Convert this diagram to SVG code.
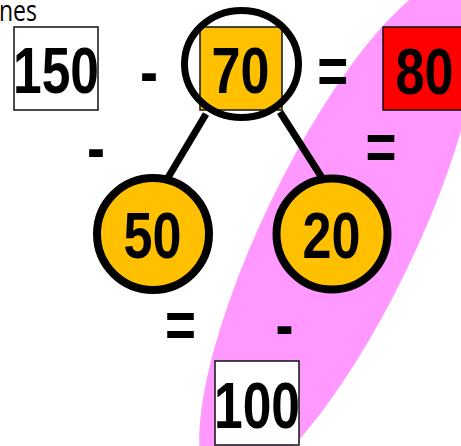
<svg xmlns="http://www.w3.org/2000/svg" width="461" height="446" viewBox="0 0 461 446">
  <style>
    .num { font-family: "Liberation Sans", Arial, sans-serif; font-weight: bold; font-size: 65px; fill: #000; text-anchor: middle; }
    .op { font-family: "Liberation Sans", Arial, sans-serif; font-weight: bold; font-size: 65px; fill: #000; text-anchor: middle; }
    .box { stroke: #111; stroke-width: 1.5; }
    .ball { fill: #FFC000; stroke: #000; stroke-width: 8; }
    .edge { stroke: #000; stroke-width: 7; stroke-linecap: butt; fill: none; }
    .caption { font-family: "Open Sans", "Noto Sans", sans-serif; font-size: 29px; fill: #000; }
  </style>
  <rect width="461" height="446" fill="#fff"/>
  <ellipse id="highlight" cx="339" cy="235" rx="76" ry="281" transform="rotate(25.7 339 235)" fill="#FF99FF"/>
  <text class="caption" x="-1" y="21" textLength="38" lengthAdjust="spacingAndGlyphs">nes</text>
  <g id="connectors">
    <line class="edge" x1="206" y1="114" x2="163" y2="186"/>
    <line class="edge" x1="280" y1="112" x2="326" y2="184"/>
  </g>
  <g id="n150">
    <rect class="box" x="14" y="27" width="84" height="83" fill="#fff"/>
    <text class="num" x="56" y="93" textLength="86" lengthAdjust="spacingAndGlyphs">150</text>
  </g>
  <g id="n70">
    <rect class="box" x="200" y="27" width="82" height="83" fill="#FFC000"/>
    <text class="num" x="240.5" y="93" textLength="58" lengthAdjust="spacingAndGlyphs">70</text>
    <ellipse cx="241.5" cy="64" rx="57" ry="53.5" fill="none" stroke="#000" stroke-width="7"/>
  </g>
  <g id="n80">
    <rect class="box" x="383" y="27" width="84" height="83" fill="#FF0000" stroke-width="2"/>
    <text class="num" x="424.5" y="94" textLength="58" lengthAdjust="spacingAndGlyphs">80</text>
  </g>
  <g id="n50">
    <circle class="ball" cx="153" cy="234" r="56"/>
    <text class="num" x="152.5" y="258" textLength="58" lengthAdjust="spacingAndGlyphs">50</text>
  </g>
  <g id="n20">
    <circle class="ball" cx="332" cy="234" r="55.5"/>
    <text class="num" x="331.5" y="258" textLength="58" lengthAdjust="spacingAndGlyphs">20</text>
  </g>
  <g id="n100">
    <rect class="box" x="215" y="361" width="84" height="84" fill="#fff"/>
    <text class="num" x="257" y="428" textLength="86" lengthAdjust="spacingAndGlyphs">100</text>
  </g>
  <g id="operators">
    <text class="op" x="149" y="93.5" textLength="18" lengthAdjust="spacingAndGlyphs">-</text>
    <text class="op" x="332.7" y="93" textLength="31" lengthAdjust="spacingAndGlyphs">=</text>
    <text class="op" x="96" y="169.5" textLength="18" lengthAdjust="spacingAndGlyphs">-</text>
    <text class="op" x="381" y="169" textLength="31" lengthAdjust="spacingAndGlyphs">=</text>
    <text class="op" x="180.5" y="347" textLength="31" lengthAdjust="spacingAndGlyphs">=</text>
    <text class="op" x="284.5" y="346.5" textLength="18" lengthAdjust="spacingAndGlyphs">-</text>
  </g>
</svg>
